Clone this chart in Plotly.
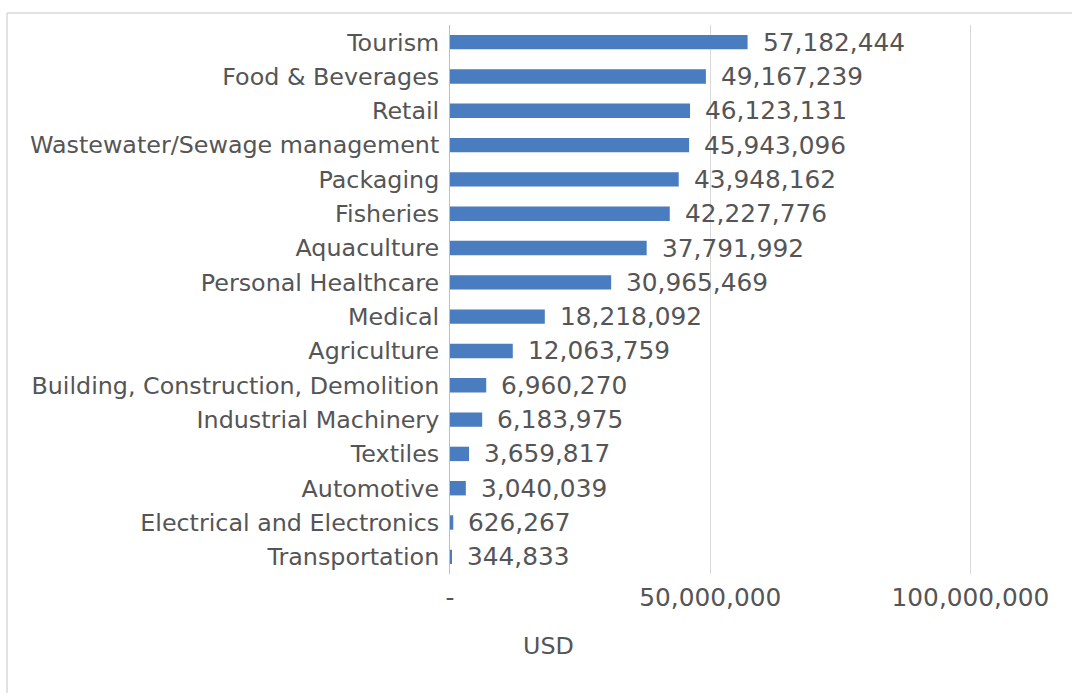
import plotly.graph_objects as go

# Market value by sector (USD), listed top to bottom
sectors = [
    "Tourism", "Food & Beverages", "Retail", "Wastewater/Sewage management",
    "Packaging", "Fisheries", "Aquaculture", "Personal Healthcare", "Medical",
    "Agriculture", "Building, Construction, Demolition", "Industrial Machinery",
    "Textiles", "Automotive", "Electrical and Electronics", "Transportation",
]
values_usd = [
    57182444, 49167239, 46123131, 45943096, 43948162, 42227776, 37791992,
    30965469, 18218092, 12063759, 6960270, 6183975, 3659817, 3040039,
    626267, 344833,
]
tick_values = [0, 50000000, 100000000]
tick_labels = ["-", "50,000,000", "100,000,000"]
axis_title = "USD"

FONT = "DejaVu Sans"
LABEL_SIZE = 23.8
NUMBER_SIZE = 24.8
TEXT_COLOR = "#555555"
BAR_COLOR = "#4a7cc0"
GRID_COLOR = "#d9d9d9"

W, H = 1072, 693
M_L, M_R, M_T, M_B = 450, 100, 25, 119
PLOT_W = W - M_L - M_R
PLOT_H = H - M_T - M_B


def px_x(px):
    return (px - M_L) / PLOT_W


def px_y(py):
    return (H - M_B - py) / PLOT_H


fig = go.Figure(
    go.Bar(
        x=values_usd,
        y=sectors,
        orientation="h",
        width=0.42,
        marker=dict(color=BAR_COLOR, line=dict(width=0)),
        hoverinfo="skip",
    )
)

# Value labels to the right of each bar
for name, val in zip(sectors, values_usd):
    fig.add_annotation(
        x=val, y=name, xref="x", yref="y",
        text=f"{val:,}", showarrow=False,
        xanchor="left", yanchor="middle", xshift=13,
        font=dict(family=FONT, size=NUMBER_SIZE, color=TEXT_COLOR),
    )

# Axis title below the value axis
fig.add_annotation(
    x=px_x(548), y=px_y(646), xref="paper", yref="paper",
    text=axis_title, showarrow=False, xanchor="center", yanchor="middle",
    font=dict(family=FONT, size=LABEL_SIZE, color=TEXT_COLOR),
)

# Chart frame (top and left edges)
frame = dict(type="line", xref="paper", yref="paper",
             line=dict(color=GRID_COLOR, width=1.5))
fig.add_shape(**frame, x0=px_x(7), x1=px_x(W), y0=px_y(13), y1=px_y(13))
fig.add_shape(**frame, x0=px_x(7), x1=px_x(7), y0=px_y(H), y1=px_y(13))

fig.update_layout(
    width=W, height=H,
    margin=dict(l=M_L, r=M_R, t=M_T, b=M_B),
    paper_bgcolor="white", plot_bgcolor="white",
    showlegend=False,
    font=dict(family=FONT, size=LABEL_SIZE, color=TEXT_COLOR),
)
fig.update_xaxes(
    range=[0, 100300000],
    tickvals=tick_values, ticktext=tick_labels,
    showgrid=True, gridcolor=GRID_COLOR, gridwidth=1,
    zeroline=False, showline=False, ticks="",
    ticklabelstandoff=6,
    tickfont=dict(family=FONT, size=NUMBER_SIZE, color=TEXT_COLOR),
)
fig.update_yaxes(
    autorange="reversed",
    showline=True, linecolor="#bfbfbf", linewidth=1,
    showgrid=False, ticks="", ticklabelstandoff=5,
    tickfont=dict(family=FONT, size=LABEL_SIZE, color=TEXT_COLOR),
)

fig.write_html("out.html")
